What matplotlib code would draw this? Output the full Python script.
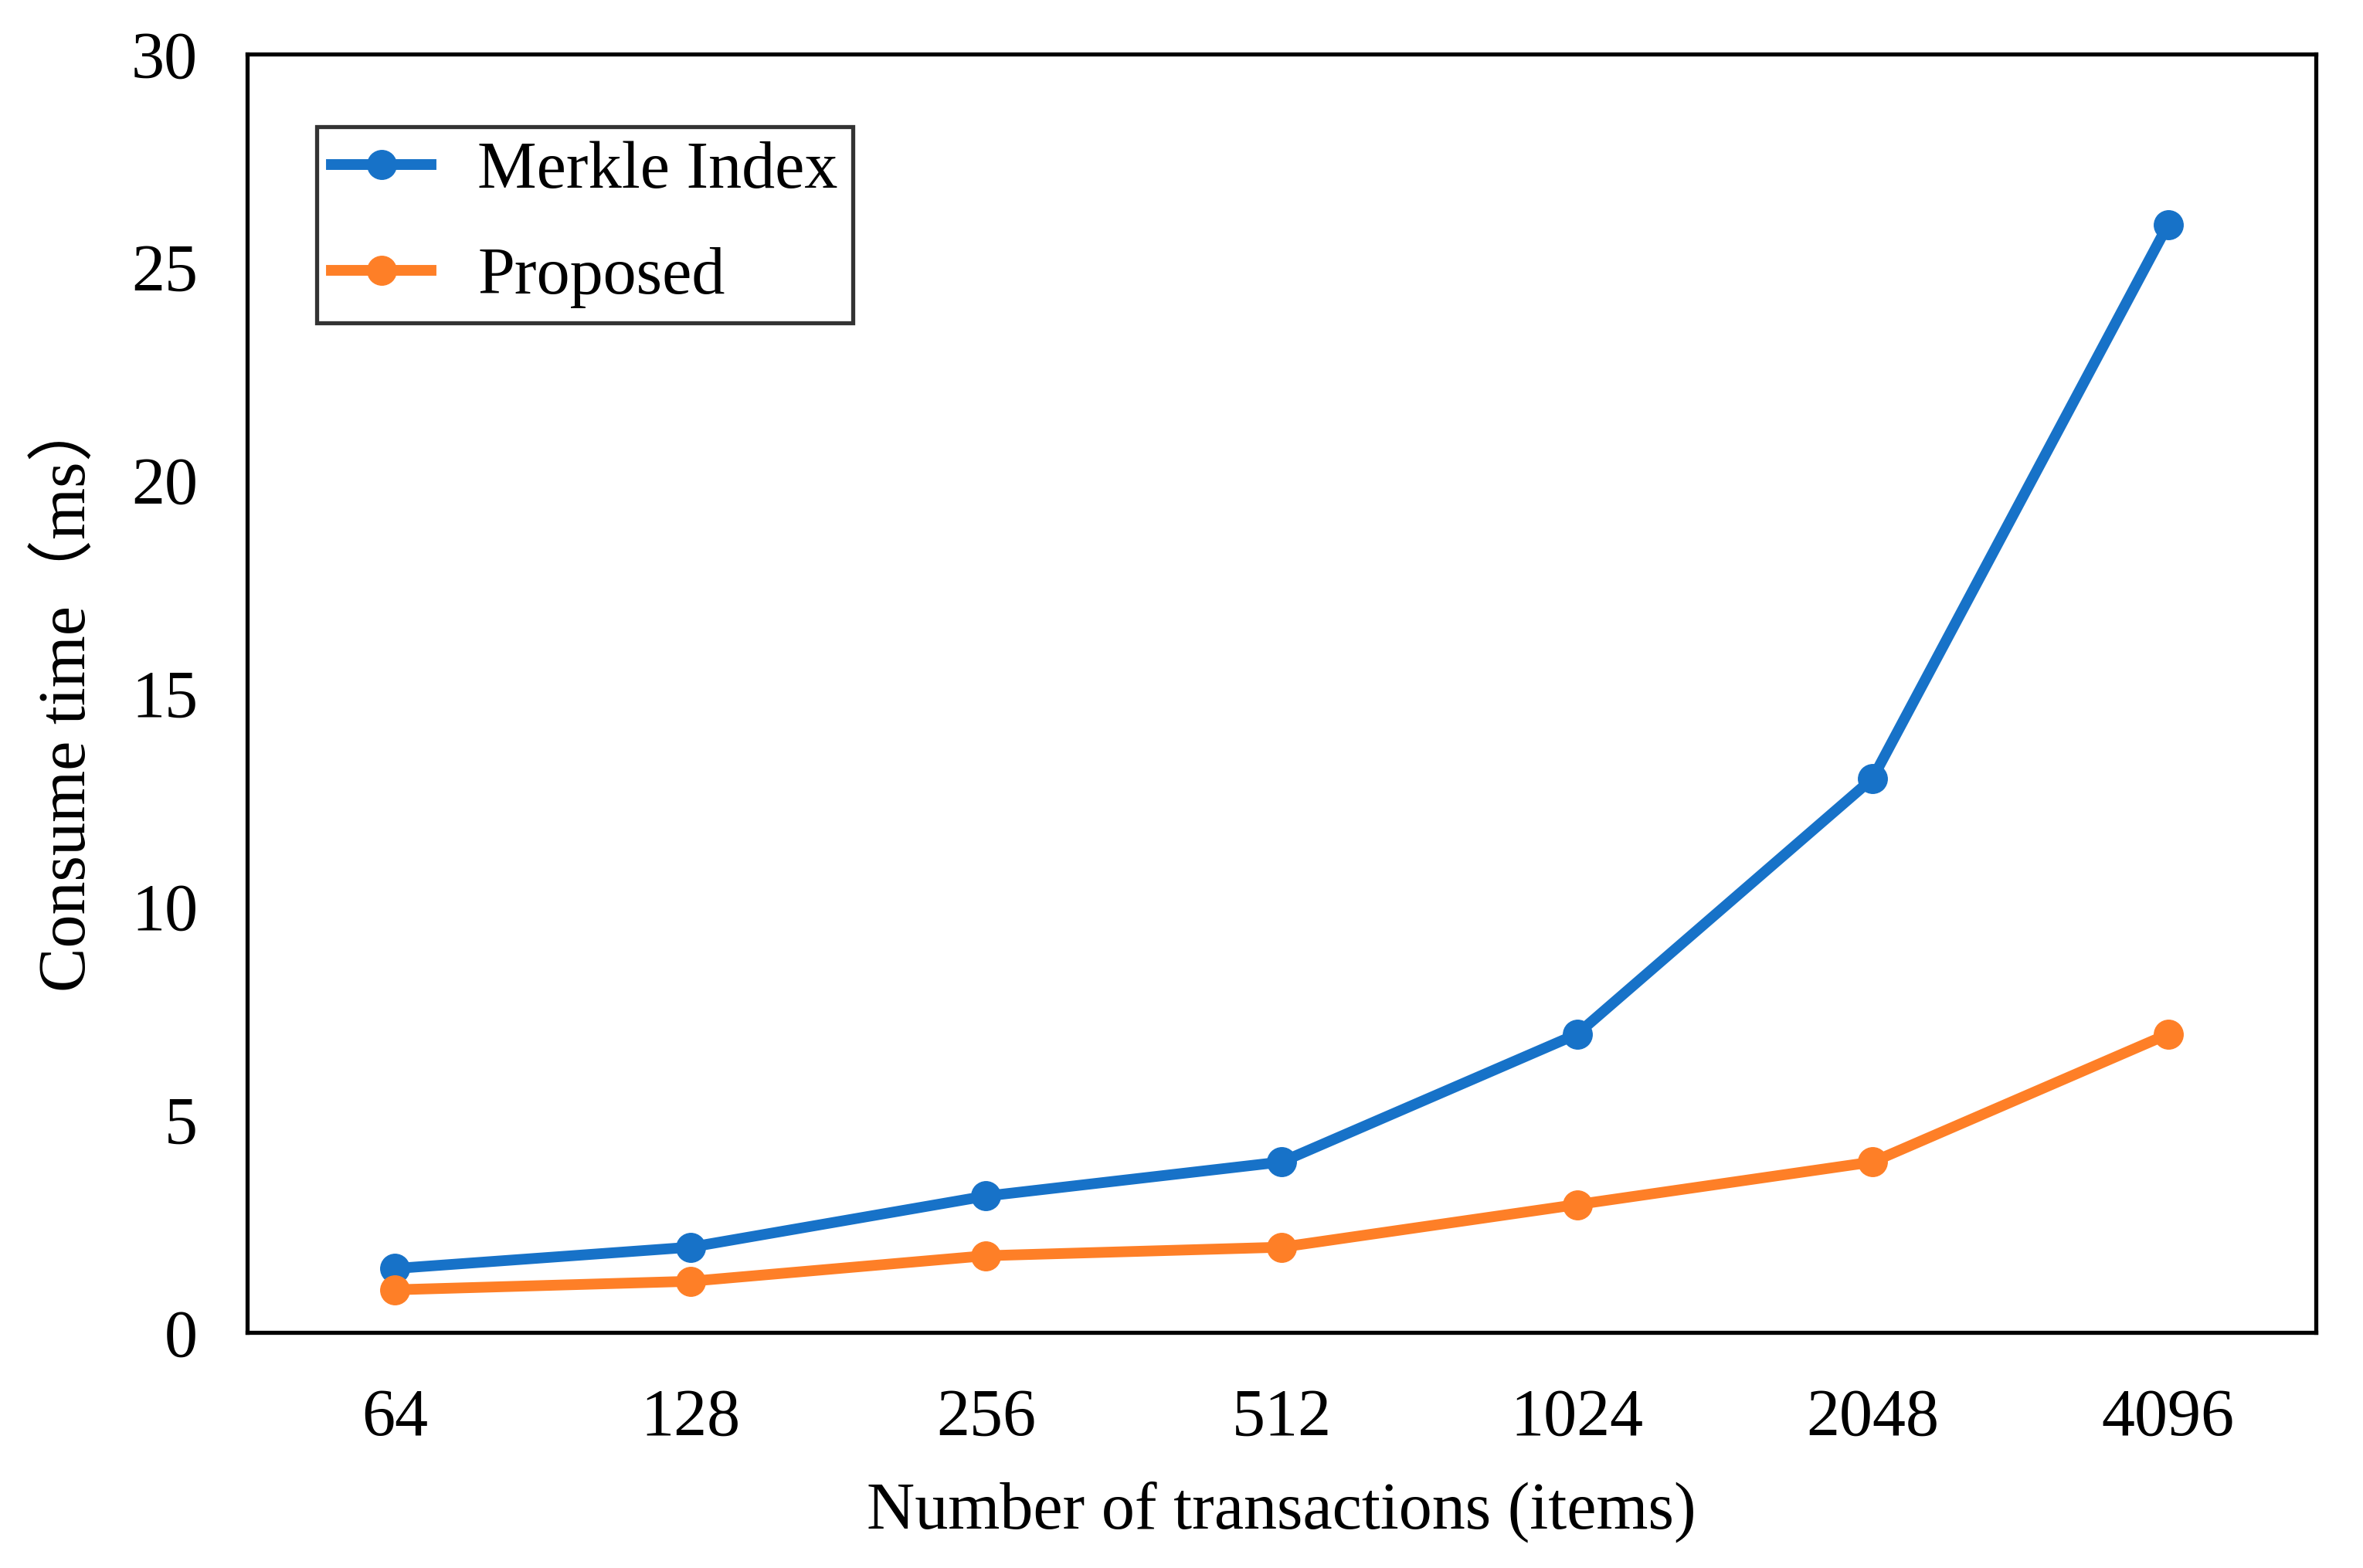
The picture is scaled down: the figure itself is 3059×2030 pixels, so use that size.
import matplotlib
matplotlib.use("Agg")
import matplotlib.pyplot as plt

categories = ["64", "128", "256", "512", "1024", "2048", "4096"]
merkle = [1.5, 2.0, 3.2, 4.0, 7.0, 13.0, 26.0]
proposed = [1.0, 1.2, 1.8, 2.0, 3.0, 4.0, 7.0]
yticks = [0, 5, 10, 15, 20, 25, 30]

plt.rcParams['font.family'] = ['Liberation Serif', 'Noto Sans CJK SC']
FS = 62
W, H = 3059, 2030
fig = plt.figure(figsize=(W / 100, H / 100), dpi=100)
ax = fig.add_axes([320 / W, 1 - 1725 / H, (2998 - 320) / W, (1725 - 70) / H])

x = list(range(len(categories)))
blue = '#1772c8'
orange = '#fe7f27'
ax.plot(x, merkle, color=blue, lw=10, marker='o', ms=27, label='Merkle Index')
ax.plot(x, proposed, color=orange, lw=10, marker='o', ms=27, label='Proposed')

ax.set_xlim(-0.5, 6.5)
ax.set_ylim(0, 30)
ax.set_xticks(x)
ax.set_xticklabels(categories)
ax.set_yticks(yticks)
ax.tick_params(axis='both', length=0, labelsize=FS)
ax.tick_params(axis='y', pad=46)
ax.tick_params(axis='x', pad=52)
for s in ax.spines.values():
    s.set_linewidth(3.8)
    s.set_color('black')

ax.set_xlabel('Number of transactions (items)', fontsize=FS, labelpad=30)
ax.set_ylabel('Consume time（ms）', fontsize=FS, labelpad=30)

leg = ax.legend(loc='upper left', bbox_to_anchor=(410 / W, 1 - 164 / H),
                bbox_transform=fig.transFigure, fontsize=FS, frameon=True,
                fancybox=False, edgecolor='black', handlelength=1.5,
                handletextpad=0.7, labelspacing=0.66, borderpad=0.22,
                borderaxespad=0)
leg.get_frame().set_linewidth(3.8)

fig.savefig('out.png', dpi=100)
